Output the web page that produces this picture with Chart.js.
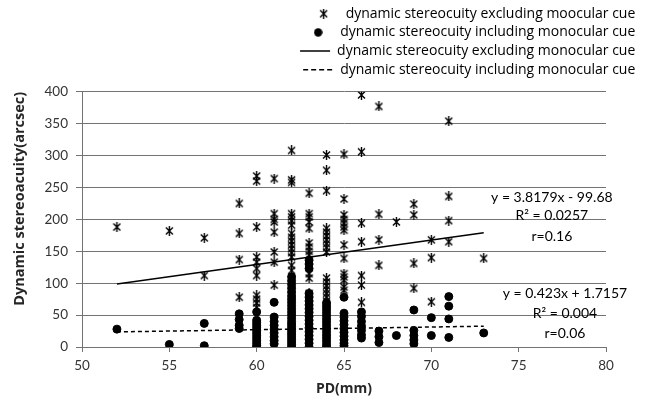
<!DOCTYPE html>
<html>
<head>
<meta charset="utf-8">
<script src="https://cdn.jsdelivr.net/npm/chart.js@4.4.1/dist/chart.umd.min.js"></script>
<style>
  html, body { margin: 0; padding: 0; background: #fff; }
</style>
</head>
<body>
<canvas id="chart" width="653" height="401"></canvas>
<script>
// PD columns (mm) and the stereoacuity values (arcsec)
const pdValues = [52, 55, 57, 59, 60, 61, 62, 63, 64, 65, 66, 67, 68, 69, 70, 71, 73];

const excludingCue = [
  [188],
  [182],
  [171, 112],
  [225, 178, 137, 78],
  [268, 260, 188, 141, 133, 123, 112, 81, 75, 69, 62],
  [264, 209, 200, 196, 180, 149, 133, 97],
  [308, 262, 258, 209, 204, 198, 191, 178, 172, 166, 160, 154, 148, 141, 128, 120],
  [241, 209, 204, 196, 186, 163, 157, 150, 144, 115, 108, 84, 76, 68, 60, 53],
  [301, 277, 245, 186, 180, 174, 168, 162, 156, 149, 108, 102, 96, 90, 84, 78, 72, 66],
  [302, 232, 207, 200, 194, 188, 183, 160, 139, 115, 110, 105, 94, 89],
  [395, 306, 194, 165, 112, 97, 70],
  [377, 208, 168, 128],
  [196],
  [224, 207, 131, 92],
  [168, 140, 71],
  [354, 236, 198, 165],
  [139]
];

const includingCue = [
  [28],
  [4],
  [37, 2],
  [52, 43, 34, 29],
  [55, 42, 38, 34, 30, 26, 22, 18, 14, 10, 6, 2, 0],
  [70, 47, 40, 34, 28, 22, 16, 10, 5],
  [110, 104, 98, 92, 86, 80, 75, 70, 65, 60, 55, 50, 45, 40, 36, 32, 28, 24, 20, 16, 12, 8, 4, 0],
  [136, 130, 123, 84, 78, 72, 66, 60, 54, 48, 42, 36, 30, 24, 18, 12, 6, 0],
  [69, 64, 59, 54, 49, 44, 39, 34, 29, 24, 19, 14, 9, 4, 0],
  [78, 53, 47, 41, 35, 29, 23, 17, 11, 6, 2],
  [55, 48, 40, 33, 26, 19, 14],
  [25, 16, 7],
  [18],
  [58, 26, 18, 11, 5],
  [46, 18],
  [79, 64, 44, 15],
  [22]
];

// linear trendlines, ends at PD 52 and 73
const trendPD = [52, 73];
const trendExcl = [98.9, 179.0];
const trendIncl = [23.7, 32.6];

const labelsExcl = ['y = 3.8179x - 99.68', 'R\u00b2 = 0.0257', 'r=0.16'];
const labelsIncl = ['y = 0.423x + 1.7157', 'R\u00b2 = 0.004', 'r=0.06'];

const legendNames = [
  'dynamic stereocuity excluding moocular cue',
  'dynamic stereocuity including monocular cue',
  'dynamic stereocuity excluding monocular cue',
  'dynamic stereocuity including monocular cue'
];

function toPoints(columns) {
  var pts = [];
  for (var i = 0; i < pdValues.length; i++)
    for (var j = 0; j < columns[i].length; j++)
      pts.push({ x: pdValues[i], y: columns[i][j] });
  return pts;
}

function toLine(ys) {
  return trendPD.map(function (x, i) { return { x: x, y: ys[i] }; });
}

// excel style asterisk marker
var star = document.createElement('canvas');
star.width = 9; star.height = 10;
(function () {
  var c = star.getContext('2d');
  c.strokeStyle = '#000';
  c.lineWidth = 1.4;
  c.beginPath();
  c.moveTo(1, 1.5); c.lineTo(8, 8.5);
  c.moveTo(8, 1.5); c.lineTo(1, 8.5);
  c.moveTo(4.5, 0); c.lineTo(4.5, 10);
  c.stroke();
})();

// round marker for the legend (the circle style stretches with pointStyleWidth)
var dot = document.createElement('canvas');
dot.width = 9; dot.height = 9;
(function () {
  var c = dot.getContext('2d');
  c.fillStyle = '#000';
  c.beginPath();
  c.arc(4.5, 4.5, 4.2, 0, Math.PI * 2);
  c.fill();
})();

Chart.defaults.font.family = 'Lato, "Open Sans", sans-serif';
Chart.defaults.color = '#262626';

const legendGap = {
  id: 'legendGap',
  beforeInit(chart) {
    var fit = chart.legend.fit;
    chart.legend.fit = function () {
      fit.bind(chart.legend)();
      this.height += 5;
    };
  }
};

const trendText = {
  id: 'trendText',
  afterDatasetsDraw(chart) {
    var ctx = chart.ctx, x = chart.scales.x, y = chart.scales.y;
    ctx.save();
    ctx.font = '14px Lato';
    ctx.fillStyle = '#000';
    ctx.textAlign = 'center';
    ctx.textBaseline = 'middle';
    var ya = [235, 206, 173], yb = [84, 53, 21.5];
    labelsExcl.forEach(function (t, i) { ctx.fillText(t, x.getPixelForValue(76.9), y.getPixelForValue(ya[i])); });
    labelsIncl.forEach(function (t, i) { ctx.fillText(t, x.getPixelForValue(77.65), y.getPixelForValue(yb[i])); });
    ctx.restore();
  }
};

new Chart(document.getElementById('chart').getContext('2d'), {
  type: 'scatter',
  data: {
    datasets: [
      {
        label: legendNames[0],
        data: toPoints(excludingCue),
        pointStyle: star,
        pointRadius: 4,
        borderColor: '#000',
        backgroundColor: '#000'
      },
      {
        label: legendNames[1],
        data: toPoints(includingCue),
        pointStyle: 'circle',
        pointRadius: 4,
        borderColor: '#000',
        backgroundColor: '#000'
      },
      {
        label: legendNames[2],
        data: toLine(trendExcl),
        showLine: true,
        pointRadius: 0,
        borderColor: '#000',
        borderWidth: 1.5
      },
      {
        label: legendNames[3],
        data: toLine(trendIncl),
        showLine: true,
        pointRadius: 0,
        borderColor: '#000',
        borderWidth: 1.5,
        borderDash: [4, 3]
      }
    ]
  },
  options: {
    responsive: false,
    animation: false,
    layout: { padding: { top: 2, right: 13, left: 0, bottom: 0 } },
    plugins: {
      tooltip: { enabled: false },
      legend: {
        position: 'top',
        align: 'end',
        labels: {
          color: '#000',
          font: { size: 14, family: '"Open Sans", sans-serif' },
          usePointStyle: true,
          pointStyleWidth: 30,
          boxHeight: 6,
          padding: 4.7,
          generateLabels: function (chart) {
            var items = Chart.defaults.plugins.legend.labels.generateLabels(chart);
            items.forEach(function (it, i) {
              it.strokeStyle = '#000';
              it.fillStyle = '#000';
              if (i === 0) it.pointStyle = star;
              if (i === 1) it.pointStyle = dot;
              if (i >= 2) { it.pointStyle = 'line'; it.lineWidth = 1.5; }
              it.lineDash = i === 3 ? [5, 3] : [];
            });
            return items;
          }
        }
      }
    },
    scales: {
      x: {
        type: 'linear',
        min: 50,
        max: 80,
        ticks: { stepSize: 5, font: { size: 13.5 }, color: '#333', padding: 6 },
        grid: { drawOnChartArea: false, drawTicks: true, tickLength: 5, color: '#737373' },
        border: { color: '#737373' },
        title: { display: true, text: 'PD(mm)', font: { size: 14, weight: 'bold', family: '"Open Sans", sans-serif' }, color: '#262626', padding: { top: 2, bottom: 4 } },
        afterFit: function (s) { s.height = 54; }
      },
      y: {
        min: 0,
        max: 400,
        ticks: { stepSize: 50, font: { size: 13.5 }, color: '#333', padding: 8 },
        grid: { color: '#737373', tickLength: 6 },
        border: { color: '#737373' },
        title: { display: true, text: 'Dynamic stereoacuity(arcsec)', align: 'end', font: { size: 14.5, weight: 'bold', family: '"Open Sans", sans-serif' }, color: '#262626', padding: { top: 11, bottom: 0 } },
        afterFit: function (s) { s.width = 82; }
      },
      y2: {
        position: 'right',
        ticks: { display: false },
        grid: { display: false },
        border: { display: false },
        afterFit: function (s) { s.width = 34; }
      }
    }
  },
  plugins: [legendGap, trendText]
});
</script>
</body>
</html>
